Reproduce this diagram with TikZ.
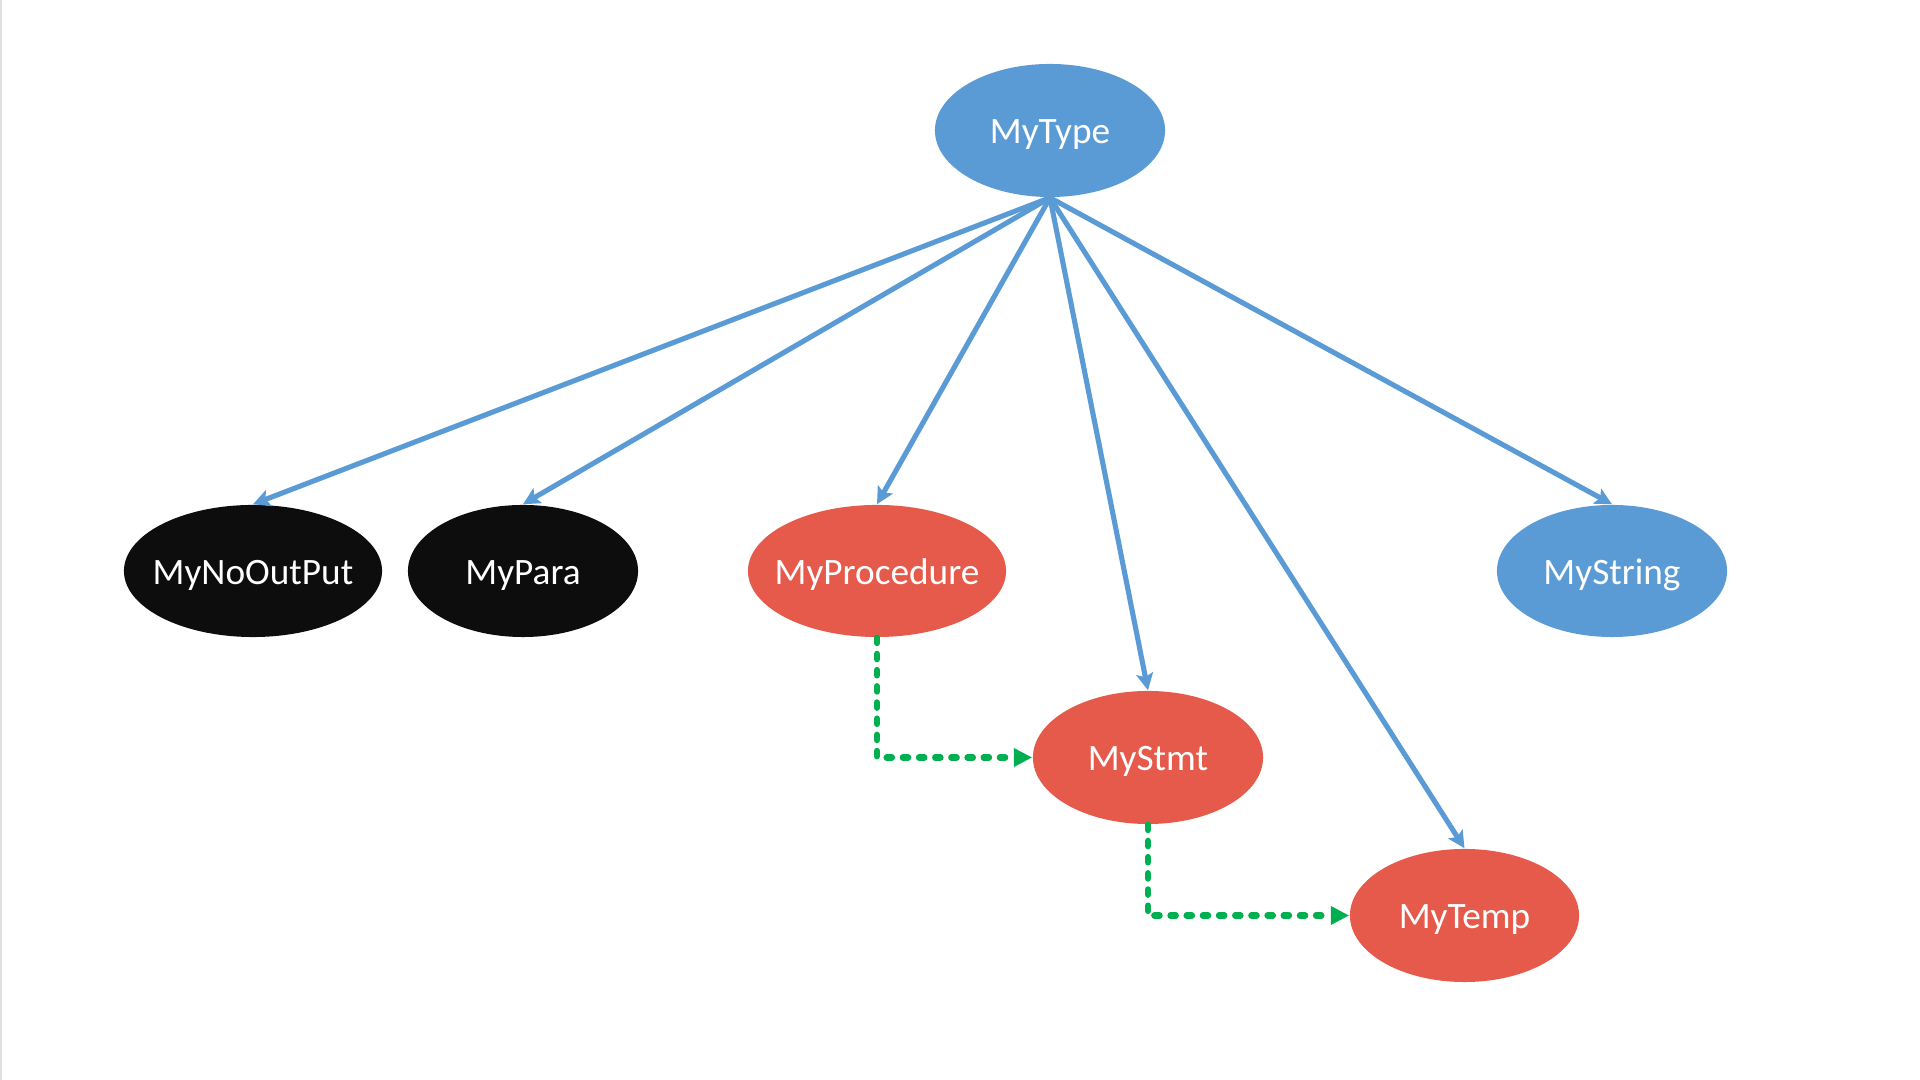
\documentclass[tikz,border=0pt]{standalone}
\usepackage{fontspec}
\setmainfont{Carlito}
\usetikzlibrary{shapes.geometric,arrows.meta}
\definecolor{nodeblue}{HTML}{5B9BD5}
\definecolor{nodered}{HTML}{E65A4B}
\definecolor{nodeblack}{HTML}{0D0D0D}
\definecolor{linkgreen}{HTML}{00B050}
\newcommand{\ovaltext}[1]{\makebox[0pt]{#1}}
\begin{document}
\begin{tikzpicture}[x=0.01cm,y=-0.01cm,
  oval/.style={ellipse,inner sep=0pt,text=white,text height=0.76em,text depth=0pt,
    font=\fontsize{10.6pt}{12pt}\selectfont},
  bluenode/.style={oval,fill=nodeblue},
  rednode/.style={oval,fill=nodered},
  blacknode/.style={oval,fill=nodeblack},
  tree/.style={draw=nodeblue,line width=1.45pt,-{Stealth[length=4.8pt,width=4.8pt,inset=1pt]},shorten <=-1pt},
  flow/.style={draw=linkgreen,line width=1.8pt,line cap=round,dash pattern=on 1.5pt off 3.1pt,
    -{Triangle[length=5.2pt,width=5pt,line cap=butt]}}
]
\useasboundingbox (0,0) rectangle (1920,1080);
\fill[white] (0,0) rectangle (1920,1080);
\draw[black!12,line width=0.6pt] (1,0) -- (1,1080);

\node[bluenode,minimum width=2.30cm,minimum height=1.33cm] (type) at (1050,130.5) {\ovaltext{MyType}};
\node[blacknode,minimum width=2.58cm,minimum height=1.32cm] (noout) at (253,571) {\ovaltext{MyNoOutPut}};
\node[blacknode,minimum width=2.30cm,minimum height=1.32cm] (para) at (523,571) {\ovaltext{MyPara}};
\node[rednode,minimum width=2.58cm,minimum height=1.32cm] (proc) at (877,571) {\ovaltext{MyProcedure}};
\node[bluenode,minimum width=2.30cm,minimum height=1.32cm] (str) at (1612,571) {\ovaltext{MyString}};
\node[rednode,minimum width=2.30cm,minimum height=1.33cm] (stmt) at (1148,757.5) {\ovaltext{MyStmt}};
\node[rednode,minimum width=2.29cm,minimum height=1.33cm] (temp) at (1464.5,915.5) {\ovaltext{MyTemp}};

\draw[tree] (type.south) -- (noout.north);
\draw[tree] (type.south) -- (para.north);
\draw[tree] (type.south) -- (proc.north);
\draw[tree] (type.south) -- (stmt.north);
\draw[tree] (type.south) -- (temp.north);
\draw[tree] (type.south) -- (str.north);

\draw[flow] (proc.south) |- (stmt.west);
\draw[flow] (stmt.south) |- (temp.west);
\end{tikzpicture}
\end{document}
